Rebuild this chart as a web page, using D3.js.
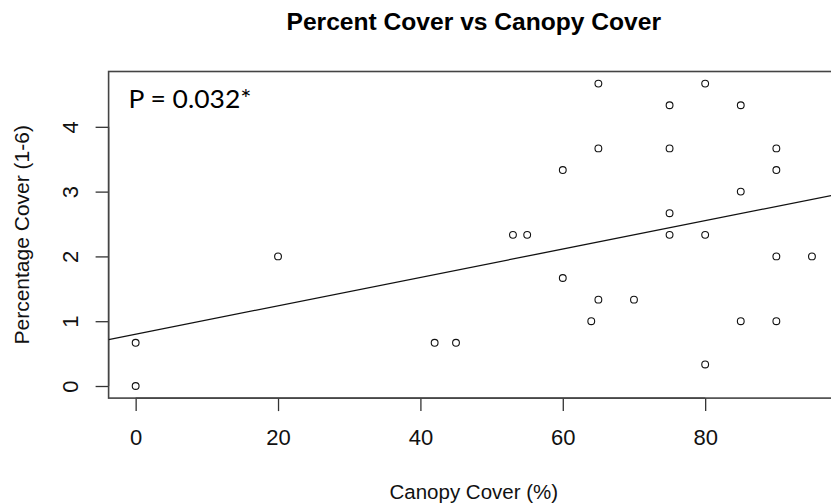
<!DOCTYPE html>
<html>
<head>
<meta charset="utf-8">
<script src="https://cdn.jsdelivr.net/npm/d3@7"></script>
<style>
  html, body { margin: 0; padding: 0; background: #fff; }
  svg { display: block; }
</style>
</head>
<body>
<svg id="chart" width="831" height="504"></svg>
<script>
// ---- data ----
const canopyCover = [0, 0, 20, 42, 45, 53, 55, 60, 60, 64, 65, 65, 65, 70,
  75, 75, 75, 75, 80, 80, 80, 85, 85, 85, 90, 90, 90, 90, 95];
const percentCover = [0.667, 0, 2, 0.667, 0.667, 2.333, 2.333, 3.333, 1.667, 1, 4.667, 3.667, 1.333, 1.333,
  4.333, 3.667, 2.667, 2.333, 4.667, 2.333, 0.333, 4.333, 3, 1, 3.667, 3.333, 2, 1, 2];
const xTicks = [0, 20, 40, 60, 80];
const yTicks = [0, 1, 2, 3, 4];
const fitCoef = [0.80, 0.0219]; // intercept, slope of fitted line
const titleText = "Percent Cover vs Canopy Cover";
const xLabel = "Canopy Cover (%)";
const yLabel = "Percentage Cover (1-6)";
const pText = "P = 0.032*";

// ---- layout ----
const svg = d3.select("#chart");
const plot = { left: 108.6, right: 839, top: 71.5, bottom: 398.1 };

const xExt = d3.extent(canopyCover), yExt = d3.extent(percentCover);
const xPad = (xExt[1] - xExt[0]) * 0.04, yPad = (yExt[1] - yExt[0]) * 0.04;
const x = d3.scaleLinear().domain([xExt[0] - xPad, xExt[1] + xPad]).range([plot.left, plot.right]);
const y = d3.scaleLinear().domain([yExt[0] - yPad, yExt[1] + yPad]).range([plot.bottom, plot.top]);

const font = "'Liberation Sans', Arial, sans-serif";

svg.append("defs").append("clipPath").attr("id", "clip")
  .append("rect").attr("x", plot.left).attr("y", plot.top)
  .attr("width", plot.right - plot.left).attr("height", plot.bottom - plot.top);

// title
svg.append("text").attr("x", (plot.left + plot.right) / 2).attr("y", 29.5)
  .attr("text-anchor", "middle").attr("font-family", font).attr("font-weight", "bold")
  .attr("font-size", 24.6).attr("fill", "#000").text(titleText);

// axes
const xAxis = d3.axisBottom(x).tickValues(xTicks).tickSize(13).tickPadding(6).tickFormat(d3.format("d"));
const gx = svg.append("g").attr("transform", `translate(0,${plot.bottom})`).call(xAxis);
gx.select(".domain").attr("d", `M${x(xTicks[0])},0H${x(xTicks[xTicks.length-1])}`);
gx.selectAll("line, path").attr("stroke", "#333").attr("stroke-width", 1.3);
gx.selectAll("text").attr("font-family", font).attr("font-size", 22).attr("fill", "#111")
  .attr("dy", null).attr("y", 47);

const yAxis = d3.axisLeft(y).tickValues(yTicks).tickSize(13).tickFormat(d3.format("d"));
const gy = svg.append("g").attr("transform", `translate(${plot.left},0)`).call(yAxis);
gy.select(".domain").attr("d", `M0,${y(yTicks[0])}V${y(yTicks[yTicks.length-1])}`);
gy.selectAll("line, path").attr("stroke", "#333").attr("stroke-width", 1.3);
gy.selectAll(".tick text")
  .attr("font-family", font).attr("font-size", 22).attr("fill", "#111")
  .attr("x", null).attr("dy", null).attr("text-anchor", "middle")
  .attr("transform", "translate(-31,0) rotate(-90)");

// box
svg.append("rect").attr("x", plot.left).attr("y", plot.top)
  .attr("width", plot.right - plot.left).attr("height", plot.bottom - plot.top)
  .attr("fill", "none").attr("stroke", "#444").attr("stroke-width", 1.6);

// axis labels
svg.append("text").attr("x", (plot.left + plot.right) / 2).attr("y", 499)
  .attr("text-anchor", "middle").attr("font-family", font).attr("font-size", 20.5)
  .attr("fill", "#111").text(xLabel);
svg.append("text")
  .attr("transform", `translate(28.5,${(plot.top + plot.bottom) / 2}) rotate(-90)`)
  .attr("text-anchor", "middle").attr("font-family", font).attr("font-size", 21)
  .attr("fill", "#111").text(yLabel);

// fitted line
const gPlot = svg.append("g").attr("clip-path", "url(#clip)");
const xd = x.domain();
gPlot.append("line")
  .attr("x1", x(xd[0])).attr("y1", y(fitCoef[0] + fitCoef[1] * xd[0]))
  .attr("x2", x(xd[1])).attr("y2", y(fitCoef[0] + fitCoef[1] * xd[1]))
  .attr("stroke", "#111").attr("stroke-width", 1.3);

// points
const pts = canopyCover.map((c, i) => ({ x: c, y: percentCover[i] }));
gPlot.selectAll("circle.pt").data(pts).enter().append("circle")
  .attr("class", "pt").attr("cx", d => x(d.x)).attr("cy", d => y(d.y))
  .attr("r", 3.4).attr("fill", "none").attr("stroke", "#111").attr("stroke-width", 1.1);

// annotation
svg.append("text").attr("x", 128.5).attr("y", 108.3)
  .attr("font-family", "Lato, 'Open Sans', sans-serif").attr("font-size", 25)
  .attr("textLength", 123).attr("lengthAdjust", "spacingAndGlyphs")
  .attr("fill", "#000").text(pText);
</script>
</body>
</html>
